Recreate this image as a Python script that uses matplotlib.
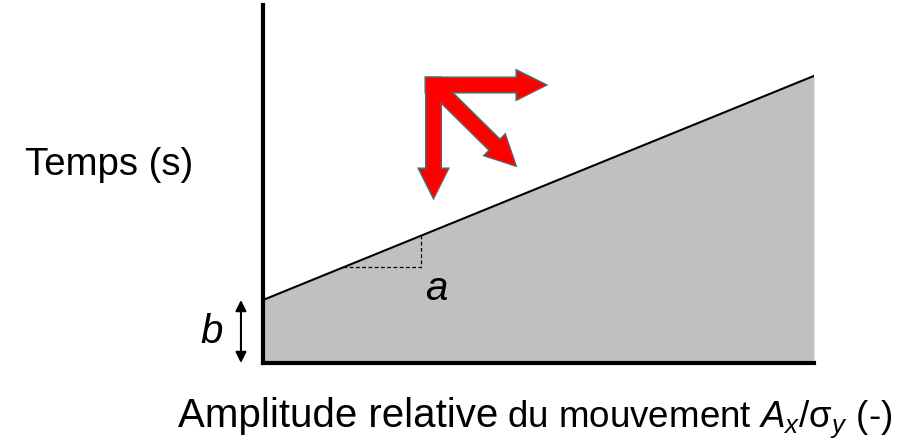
import matplotlib
matplotlib.use("Agg")
import matplotlib.pyplot as plt
from matplotlib.patches import FancyArrow
from matplotlib.transforms import IdentityTransform
import numpy as np

plt.rcParams['font.family'] = ['Liberation Sans', 'DejaVu Sans']
plt.rcParams['mathtext.fontset'] = 'custom'
plt.rcParams['mathtext.rm'] = 'Liberation Sans'
plt.rcParams['mathtext.it'] = 'Liberation Sans:italic'

# Data (schematic): linear model t = b + a * amplitude
amplitude = [0.0, 1.0]
intercept_b = 0.176
slope_a = 0.626
temps = [intercept_b + slope_a * v for v in amplitude]
tri_x = [0.145, 0.287]

W, H = 920, 442
fig = plt.figure(figsize=(W / 100, H / 100), dpi=100)
ax = fig.add_axes([263 / W, 1 - 363 / H, (814 - 263) / W, (363 - 5) / H])
ax.set_xlim(0, 1)
ax.set_ylim(0, 1)
ax.fill_between(amplitude, 0, temps, color='#c0c0c0', lw=0, zorder=1)
ax.plot(amplitude, temps, color='black', lw=1.5, zorder=3)

# slope triangle (dashed)
y0 = intercept_b + slope_a * tri_x[0]
y1 = intercept_b + slope_a * tri_x[1]
ax.plot([tri_x[0], tri_x[1], tri_x[1]], [y0, y0, y1], color='black', lw=0.9,
        ls=(0, (3, 2)), zorder=2)
ax.text(tri_x[1] + 0.008, y0 - 0.008, 'a', fontsize=29, style='italic', ha='left', va='top')

for s in ['top', 'right']:
    ax.spines[s].set_visible(False)
for s in ['left', 'bottom']:
    ax.spines[s].set_linewidth(3)
    ax.spines[s].set_zorder(5)
ax.set_xticks([])
ax.set_yticks([])
ax.patch.set_alpha(0)

# b indicator
ax.annotate('', xy=(-0.04, 0.0), xytext=(-0.04, intercept_b),
            xycoords='axes fraction', textcoords='axes fraction',
            arrowprops=dict(arrowstyle='<|-|>', color='black', lw=1.5,
                            shrinkA=0, shrinkB=0, mutation_scale=16),
            annotation_clip=False)
fig.text(212 / W, 1 - 332 / H, 'b', fontsize=29, style='italic', ha='center', va='center')

# y label
fig.text(25 / W, 1 - 165 / H, 'Temps (s)', fontsize=27.6, ha='left', va='center')

# x label (two sizes)
t1 = fig.text(178 / W, 1 - 427 / H, 'Amplitude relative', fontsize=29, ha='left', va='baseline')
fig.canvas.draw()
ext = t1.get_window_extent()
fig.text((ext.x1 + 9) / W, 1 - 427 / H, r'du mouvement $A_x/\mathrm{\sigma}_y$ (-)', fontsize=26.5,
         ha='left', va='baseline')

# red arrows (pixel coordinates, y measured from top)
def P(x, y):
    return x, H - y

arrows = [
    ((426, 85), (545, 85)),
    ((433.5, 78), (433.5, 197)),
    ((437, 88), (515, 165)),
]
for layer in (0, 1):
    for (sx, sy), (ex, ey) in arrows:
        x0, y0p = P(sx, sy)
        x1, y1p = P(ex, ey)
        arr = FancyArrow(x0, y0p, x1 - x0, y1p - y0p, width=14, head_width=28,
                         head_length=28, length_includes_head=True,
                         transform=IdentityTransform(),
                         facecolor='#ff0000',
                         edgecolor='#606060' if layer == 0 else 'none',
                         lw=2.2 if layer == 0 else 0, zorder=10 + layer)
        fig.add_artist(arr)

fig.savefig('out.png', dpi=100)
